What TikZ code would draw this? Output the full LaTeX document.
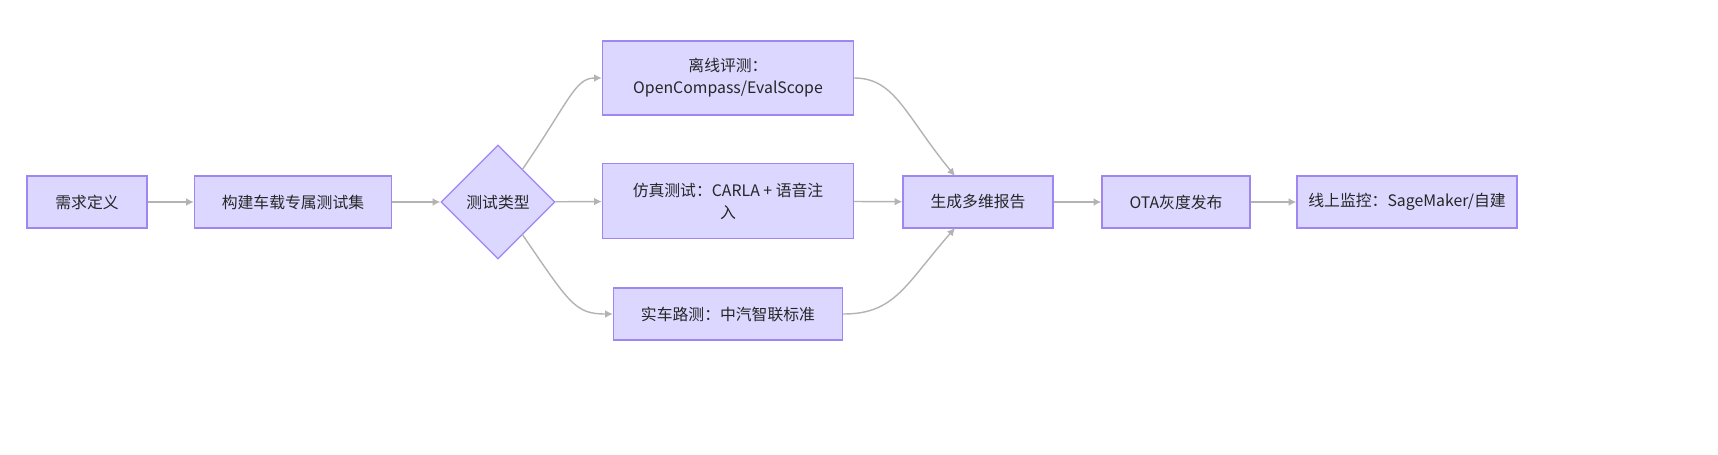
\documentclass[tikz,border=0pt]{standalone}
\usepackage{fontspec}
\setmainfont{Noto Sans CJK SC}
\usetikzlibrary{shapes.geometric,arrows.meta}
\definecolor{boxfill}{HTML}{DCD7FF}
\definecolor{boxline}{HTML}{9F86F0}
\definecolor{edge}{HTML}{B3B3B3}
\begin{document}
\begin{tikzpicture}[x=0.01cm,y=-0.01cm,
  box/.style={draw=boxline,fill=boxfill,line width=0.35pt,inner sep=0pt,align=center,
    font=\fontsize{4.5}{6.2}\selectfont,text=black!85},
  dia/.style={box,diamond,aspect=1},
  line/.style={draw=edge,line width=0.4pt,-{Latex[length=2.2pt,width=2.2pt]}}]
\useasboundingbox (0,0) rectangle (1718,454);
\node[box,minimum width=1.2cm,minimum height=0.52cm] (a) at (87,202) {需求定义};
\node[box,minimum width=1.97cm,minimum height=0.52cm] (b) at (293,202) {构建车载专属测试集};
\node[dia,minimum width=1.14cm,minimum height=1.14cm] (c) at (498,202) {测试类型};
\node[box,minimum width=2.51cm,minimum height=0.74cm] (d) at (728,78) {离线评测：\\OpenCompass/EvalScope};
\node[box,minimum width=2.51cm,minimum height=0.75cm] (e) at (728,201) {仿真测试：CARLA + 语音注\\入};
\node[box,minimum width=2.29cm,minimum height=0.52cm] (f) at (728,314) {实车路测：中汽智联标准};
\node[box,minimum width=1.5cm,minimum height=0.52cm] (g) at (978,202) {生成多维报告};
\node[box,minimum width=1.48cm,minimum height=0.52cm] (h) at (1176,202) {OTA灰度发布};
\node[box,minimum width=2.2cm,minimum height=0.52cm] (i) at (1407,202) {线上监控：SageMaker/自建};
\coordinate (ct) at (522,170);
\coordinate (cb) at (522,234);
\coordinate (gt) at (955,176);
\coordinate (gb) at (955,228);
\path[line] (a) -- (b);
\path[line] (b) -- (c);
\path[line] (ct) .. controls (570,100) and (575,78) .. (d.west);
\path[line] (c) -- (e);
\path[line] (cb) .. controls (570,304) and (575,314) .. (f.west);
\path[line] (d.east) .. controls (895,78) and (905,115) .. (gt);
\path[line] (e) -- (g);
\path[line] (f.east) .. controls (895,314) and (905,285) .. (gb);
\path[line] (g) -- (h);
\path[line] (h) -- (i);
\end{tikzpicture}
\end{document}
